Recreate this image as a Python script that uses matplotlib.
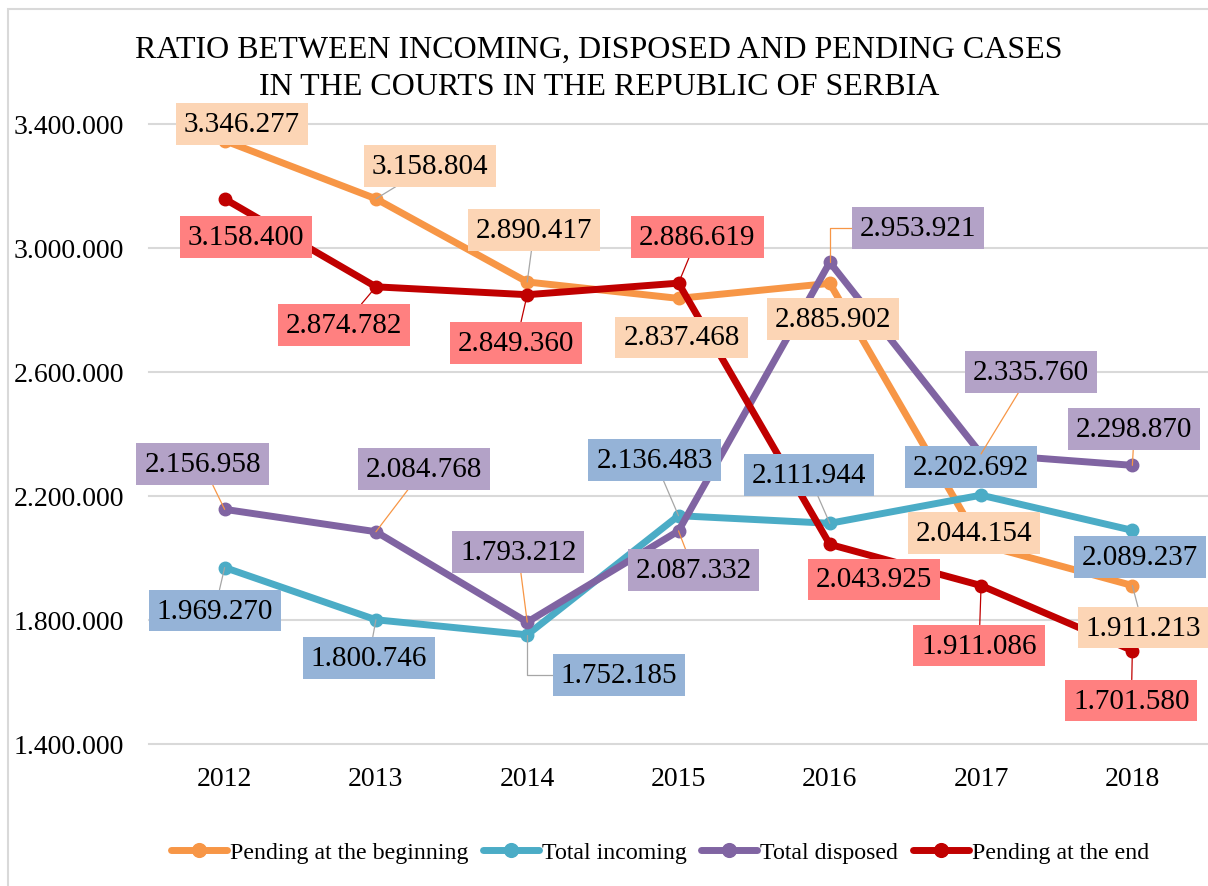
import matplotlib
matplotlib.use("Agg")
import matplotlib.pyplot as plt
from matplotlib.ticker import FuncFormatter

plt.rcParams['font.family'] = ['Liberation Serif', 'DejaVu Serif']

years = ['2012', '2013', '2014', '2015', '2016', '2017', '2018']

pending_begin = [3346277, 3158804, 2890417, 2837468, 2885902, 2044154, 1911213]
total_incoming = [1969270, 1800746, 1752185, 2136483, 2111944, 2202692, 2089237]
total_disposed = [2156958, 2084768, 1793212, 2087332, 2953921, 2335760, 2298870]
pending_end = [3158400, 2874782, 2849360, 2886619, 2043925, 1911086, 1701580]

y_ticks = [1400000, 1800000, 2200000, 2600000, 3000000, 3400000]

series_names = ['Pending at the beginning', 'Total incoming', 'Total disposed', 'Pending at the end']
line_colors = ['#F79646', '#4BACC6', '#8064A2', '#C00000']
box_colors = ['#FCD5B5', '#95B3D7', '#B3A2C7', '#FF8080']
leader_colors = ['#A6A6A6', '#A6A6A6', '#F79646', '#C00000']

# label box offsets from the point, in pixels (dx, dy up)
label_offsets = [
    [(17, 17), (54, 33), (7, 52), (3, -39), (3, -36), (-7, 11), (11, -42)],
    [(-10, -43), (-7, -38), (92, -40), (-24, 56), (-21, 48), (-10, 28), (8, -27)],
    [(-22, 45), (48, 63), (-9, 70), (15, -39), (88, 34), (50, 82), (2, 36)],
    [(21, -38), (-32, -38), (-11, -48), (19, 46), (44, -35), (-2, -60), (-1, -50)],
]
# leader line: None, 'line' or 'elbow'
leaders = [
    [None, 'line', 'line', None, None, None, 'line'],
    ['line', 'line', 'elbow', 'line', 'line', None, None],
    ['line', 'line', 'line', 'line', 'elbow', 'line', 'line'],
    [None, 'line', 'line', 'line', None, 'line', 'line'],
]


def dots(v, pos=None):
    return f'{v:,.0f}'.replace(',', '.')


fig = plt.figure(figsize=(12.08, 8.87), dpi=100)
ax = fig.add_axes([149 / 1208, 142 / 887, 1059 / 1208, 620 / 887])

# outer chart border (right and bottom edges fall outside the picture)
fig.patches.append(plt.Rectangle((8 / 1208, -0.05), 1.0, 1.05 - 10 / 887, transform=fig.transFigure,
                                 fill=False, edgecolor='#D9D9D9', linewidth=1.5))

x = list(range(len(years)))
all_series = [pending_begin, total_incoming, total_disposed, pending_end]

for i, vals in enumerate(all_series):
    ax.plot(x, vals, color=line_colors[i], linewidth=5, marker='o', markersize=9,
            solid_capstyle='round', label=series_names[i], zorder=3 + i)

for i, vals in enumerate(all_series):
    for j, v in enumerate(vals):
        dx, dy = label_offsets[i][j]
        kind = leaders[i][j]
        arrow = None
        if kind == 'line':
            arrow = dict(arrowstyle='-', color=leader_colors[i], lw=0.9, shrinkA=0, shrinkB=0)
        elif kind == 'elbow':
            arrow = dict(arrowstyle='-', color=leader_colors[i], lw=0.9, shrinkA=0, shrinkB=0,
                         connectionstyle='angle,angleA=0,angleB=90,rad=0')
        ax.annotate(dots(v), xy=(j, v), xytext=(dx, dy), textcoords='offset pixels',
                    ha='center', va='center', fontsize=21, color='black', zorder=10,
                    bbox=dict(boxstyle='square,pad=0.27', fc=box_colors[i], ec='none'),
                    arrowprops=arrow)

ax.set_xlim(-0.5, 6.5)
ax.set_ylim(1400000, 3400000)
ax.set_yticks(y_ticks)
ax.yaxis.set_major_formatter(FuncFormatter(dots))
ax.set_xticks(x)
ax.set_xticklabels(years)
ax.grid(axis='y', color='#D9D9D9', linewidth=1.5, clip_on=False)
ax.set_axisbelow(True)
for s in ax.spines.values():
    s.set_visible(False)
ax.tick_params(axis='y', length=0, pad=18, labelsize=20)
ax.tick_params(axis='x', length=0, pad=16, labelsize=20)

fig.text(0.496, 1 - 58 / 887, 'RATIO BETWEEN INCOMING, DISPOSED AND PENDING CASES',
         ha='center', va='baseline', fontsize=23)
fig.text(0.496, 1 - 95 / 887, 'IN THE COURTS IN THE REPUBLIC OF SERBIA',
         ha='center', va='baseline', fontsize=23)

leg = ax.legend(loc='center', bbox_to_anchor=(660 / 1208, 1 - 853 / 887), bbox_transform=fig.transFigure,
                ncol=4, frameon=False, fontsize=17.2, handlelength=2.35, handletextpad=0.12,
                columnspacing=0.6, markerscale=1.1)

fig.savefig('out.png', dpi=100)
